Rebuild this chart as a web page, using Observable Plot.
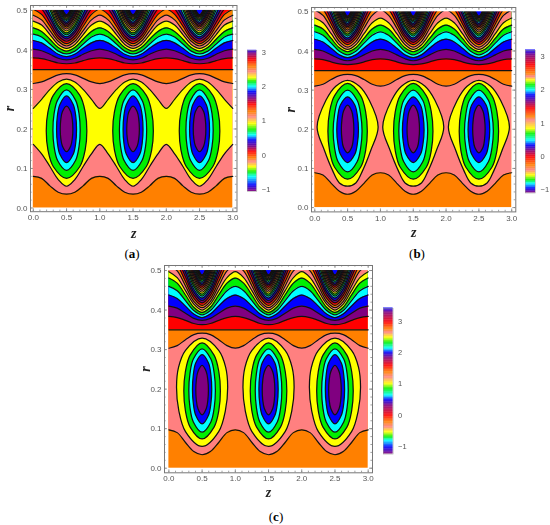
<!DOCTYPE html>
<html>
<head>
<meta charset="utf-8">
<script src="https://cdn.jsdelivr.net/npm/d3@7"></script>
<script src="https://cdn.jsdelivr.net/npm/@observablehq/plot@0.6"></script>
<style>
html,body{margin:0;padding:0;background:#fff;overflow:hidden}
#page{position:relative;width:550px;height:525px;background:#fff}
#page svg{position:absolute;overflow:visible;filter:blur(0.55px)}
.cap{position:absolute;font:13px "Liberation Serif",serif;color:#000;transform:translate(-50%,-50%)}
.cap b{font-weight:bold}
</style>
</head>
<body>
<div id="page"></div>
<script>
const zHalf = [0, 0.125, 0.25, 0.375, 0.5];
const zTicks = [0, 0.5, 1, 1.5, 2, 2.5, 3];
const rTicks = [0, 0.1, 0.2, 0.3, 0.4, 0.5];
const orange = "#ff8000", salmon = "#ff8080", yellow = "#ffff00", green = "#00f000",
      cyan = "#00ffff", blue = "#0000ff", purple = "#800080", red = "#ff0000";
const cycle = [red, purple, blue, cyan, green, yellow, salmon, orange];

// contour lines (r at zHalf columns) for the lower part of each panel
const aBottom = [.080,.075,.056,.040,.035];
const aYellowLow = [.161,.137,.105,.072,.055];
const aYellowUp = [.252,.275,.300,.319,.326];
const aTop = [.315,.319,.328,.337,.340];
const bBottom = [.089,.083,.062,.042,.034];
const bTop = [.310,.315,.327,.337,.340];
const cBottom = [.097,.090,.065,.042,.034];
const cTop = [.3035,.310,.325,.338,.3415];
const flat = [.35,.35,.35,.35,.35];

// upper contour stack
const aUpper = [
[.380,.378,.373,.367,.365],[.402,.398,.389,.379,.375],[.424,.418,.404,.389,.383],[.440,.433,.415,.397,.390],
[.456,.447,.427,.406,.397],[.473,.463,.439,.414,.404],[.488,.476,.449,.422,.410],[.503,.490,.460,.429,.416],
[.518,.504,.470,.436,.422],[.533,.517,.481,.444,.428],[.548,.531,.491,.450,.433],[.563,.544,.501,.457,.438],
[.578,.558,.511,.463,.443],[.593,.571,.521,.470,.448],[.608,.585,.531,.476,.453],[.623,.598,.541,.483,.458],
[.638,.612,.550,.488,.462],[.653,.625,.560,.494,.466],[.668,.638,.569,.500,.470],[.683,.652,.579,.505,.474],
[.698,.665,.588,.510,.477],[.713,.678,.597,.515,.480],[.728,.691,.606,.520,.483],[.743,.704,.614,.524,.485],
[.758,.717,.623,.528,.487],[.773,.730,.631,.532,.489]];
const bUpper = [
[.380,.378,.372,.367,.365],[.404,.400,.390,.380,.375],[.430,.423,.407,.390,.383],[.449,.440,.420,.399,.390],
[.466,.456,.432,.408,.398],[.484,.472,.444,.416,.404],[.505,.491,.458,.424,.410],[.522,.506,.469,.432,.416],
[.538,.521,.480,.439,.422],[.555,.536,.492,.447,.428],[.571,.550,.502,.454,.433],[.588,.566,.513,.461,.438],
[.604,.580,.524,.467,.443],[.621,.595,.535,.474,.448],[.637,.609,.545,.481,.453],[.654,.625,.556,.487,.458],
[.670,.639,.566,.493,.462],[.687,.654,.577,.499,.466],[.703,.668,.587,.505,.470],[.720,.683,.597,.511,.474],
[.736,.697,.607,.516,.477],[.753,.712,.617,.521,.480],[.769,.726,.626,.526,.483],[.786,.741,.636,.530,.485],
[.802,.755,.645,.534,.487],[.819,.769,.654,.539,.489]];
const cUpper = [
[.384,.381,.374,.366,.363],[.410,.405,.392,.379,.374],[.438,.429,.410,.390,.381],[.460,.449,.424,.399,.388],
[.481,.468,.438,.407,.394],[.497,.482,.449,.415,.400],[.515,.499,.461,.422,.406],[.532,.514,.472,.430,.412],
[.549,.529,.484,.438,.418],[.566,.545,.495,.445,.424],[.583,.560,.507,.453,.430],[.600,.575,.518,.460,.435],
[.617,.590,.529,.467,.440],[.634,.606,.540,.473,.445],[.651,.621,.551,.480,.450],[.668,.636,.562,.487,.455],
[.685,.651,.573,.494,.460],[.702,.666,.583,.500,.464],[.719,.681,.594,.506,.468],[.736,.696,.604,.512,.472],
[.753,.711,.615,.518,.476],[.770,.726,.625,.523,.479],[.787,.741,.635,.528,.482],[.804,.756,.645,.533,.485],
[.821,.771,.654,.537,.487],[.838,.785,.664,.541,.489]];

// closed rings around each cell: half widths and r along the right side
const aRings = [
 {fill:green, dz:[0,.20,.28,.305,.28,.20,0], r:[.3147,.285,.243,.195,.147,.105,.075]},
 {fill:cyan, dz:[0,.135,.188,.205,.188,.135,0], r:[.2987,.273,.238,.197,.156,.120,.095]},
 {fill:blue, dz:[0,.10,.138,.15,.138,.10,0], r:[.2835,.262,.233,.199,.165,.136,.1147]},
 {fill:purple, dz:[0,.063,.087,.095,.087,.063,0], r:[.258,.2435,.223,.2,.177,.157,.1426]}];
const bRings = [
 {fill:yellow, dz:[0,.18,.33,.465,.355,.23,.125,0], r:[.325,.310,.274,.206,.147,.095,.063,.0545]},
 {fill:green, dz:[0,.198,.275,.30,.275,.198,0], r:[.317,.286,.244,.195,.146,.103,.0724]},
 {fill:cyan, dz:[0,.145,.20,.22,.20,.145,0], r:[.30,.274,.237,.1955,.154,.117,.091]},
 {fill:blue, dz:[0,.11,.15,.165,.15,.11,0], r:[.283,.262,.233,.199,.165,.136,.115]},
 {fill:purple, dz:[0,.063,.087,.095,.087,.063,0], r:[.2615,.246,.224,.2,.176,.154,.14]}];
const cRings = [
 {fill:yellow, dz:[0,.25,.355,.385,.35,.25,0], r:[.329,.298,.255,.205,.145,.0925,.055]},
 {fill:green, dz:[0,.18,.252,.275,.252,.18,0], r:[.317,.286,.244,.195,.146,.104,.074]},
 {fill:cyan, dz:[0,.132,.183,.20,.183,.132,0], r:[.302,.276,.239,.1965,.154,.117,.091]},
 {fill:blue, dz:[0,.096,.133,.145,.133,.096,0], r:[.2875,.266,.235,.2,.165,.134,.112]},
 {fill:purple, dz:[0,.063,.087,.095,.087,.063,0], r:[.26,.244,.2225,.1975,.1725,.151,.135]}];

// colour-bar stops
const aBarV = [-1.05,-.88,-.64,-.5,-.35,-.2,-.1,.09,.23,.43,.57,.72,.91,1.1,1.25,1.47,1.64,1.83,1.98,2.13,2.24,2.42,2.56,2.76,2.95,3.05];
const bBarV = [-1.1,-.98,-.83,-.73,-.58,-.43,-.28,-.03,.17,.32,.47,.67,.82,1.08,1.18,1.43,1.63,1.83,1.98,2.13,2.28,2.38,2.48,2.73,3.03,3.19];
const cBarV = [-1.24,-1.03,-.82,-.71,-.55,-.39,-.23,-.02,.30,.48,.62,.83,.99,1.2,1.36,1.57,1.83,1.99,2.12,2.31,2.47,2.63,2.74,2.95,3.27,3.41];
const barColors = [purple,blue,cyan,green,yellow,salmon,orange,red,purple,blue,cyan,green,yellow,salmon,orange,red,purple,blue,cyan,green,yellow,salmon,orange,red,purple,blue];
const barTicks = [-1,0,1,2,3];

const page = document.getElementById("page");
const gray = "#777";
const font = "'Liberation Sans',sans-serif";

function tile(col){
  const out = [];
  for (let p=0;p<3;p++){
    zHalf.forEach((z,i)=>{ if(!(p>0&&i===0)) out.push({z:p+z,r:col[i]}); });
    for(let i=3;i>=0;i--) out.push({z:p+1-zHalf[i],r:col[i]});
  }
  return out;
}
function ringPts(ring){
  const out=[];
  [0.5,1.5,2.5].forEach(c=>{
    ring.dz.forEach((d,i)=>out.push({c,z:c+d,r:ring.r[i]}));
    for(let i=ring.dz.length-2;i>0;i--) out.push({c,z:c-ring.dz[i],r:ring.r[i]});
  });
  return out;
}

function panel(o){
  const {frame,xDom,yDom,under,upper,rings,rLabelDx,zLabelDy} = o;
  const left=frame[0]-4, top=frame[2]-4;
  const W=frame[1]-frame[0], H=frame[3]-frame[2];
  const marks=[];
  const curve="catmull-rom";
  marks.push(Plot.rect([0],{x1:0,x2:3,y1:0,y2:.6,fill:orange,clip:true}));
  const lines=[];
  under.forEach(([col,fill])=>{
    const pts=tile(col);
    marks.push(Plot.areaY(pts,{x:"z",y1:"r",y2:()=>.6,fill,curve,clip:true}));
    lines.push(pts);
  });
  const flatPts=tile(flat);
  marks.push(Plot.areaY(flatPts,{x:"z",y1:"r",y2:()=>.6,fill:red,curve,clip:true}));
  lines.push(flatPts);
  upper.forEach((col,i)=>{
    const pts=tile(col);
    marks.push(Plot.areaY(pts,{x:"z",y1:"r",y2:()=>.8,fill:cycle[(i+1)%8],curve,clip:true}));
    lines.push(pts);
  });
  lines.forEach(pts=>marks.push(Plot.line(pts,{x:"z",y:"r",stroke:"#111",strokeWidth:1.2,curve,clip:true})));
  rings.forEach(ring=>{
    marks.push(Plot.line(ringPts(ring),{x:"z",y:"r",z:"c",fill:ring.fill,stroke:"#111",strokeWidth:1.25,curve:"catmull-rom-closed",clip:true}));
  });
  marks.push(Plot.rect([0],{x1:-1,x2:4,y1:.5,y2:1,fill:"white",clip:true}));
  // inner tick marks on all four sides
  const zMinor=d3.range(0,3.01,.1), rMinor=d3.range(0,.501,.02);
  const lz=(xDom[1]-xDom[0])/W, lr=(yDom[1]-yDom[0])/H;
  const tick=(vals,len)=>[
    Plot.ruleX(vals[0],{x:d=>d,y1:yDom[0],y2:yDom[0]+len*lr,stroke:gray,strokeWidth:.7}),
    Plot.ruleX(vals[0],{x:d=>d,y1:yDom[1],y2:yDom[1]-len*lr,stroke:gray,strokeWidth:.7}),
    Plot.ruleY(vals[1],{y:d=>d,x1:xDom[0],x2:xDom[0]+len*lz,stroke:gray,strokeWidth:.7}),
    Plot.ruleY(vals[1],{y:d=>d,x1:xDom[1],x2:xDom[1]-len*lz,stroke:gray,strokeWidth:.7})];
  marks.push(...tick([zMinor,rMinor],1.6),...tick([zTicks,rTicks],3));
  marks.push(Plot.frame({stroke:gray,strokeWidth:1}));
  marks.push(Plot.axisX({ticks:zTicks,tickSize:0,tickPadding:3,tickFormat:d3.format(".1f"),label:null,fontSize:8,fill:"#555",fontFamily:font}));
  marks.push(Plot.axisY({ticks:rTicks,tickSize:0,tickPadding:3,tickFormat:d3.format(".1f"),label:null,fontSize:8,fill:"#555",fontFamily:font}));
  marks.push(Plot.text(["z"],{frameAnchor:"bottom",lineAnchor:"middle",dy:zLabelDy,fontSize:14,fontStyle:"italic",fontWeight:"bold",fontFamily:"'Liberation Serif',serif",fill:"#222"}));
  marks.push(Plot.text(["r"],{frameAnchor:"left",textAnchor:"middle",dx:rLabelDx,rotate:-90,fontSize:14,fontStyle:"italic",fontWeight:"bold",fontFamily:"'Liberation Serif',serif",fill:"#222"}));
  const svg=Plot.plot({
    width:W+8,height:H+32,marginLeft:4,marginRight:4,marginTop:4,marginBottom:28,
    x:{domain:xDom,label:null},y:{domain:yDom,label:null},
    style:{background:"transparent",overflow:"visible"},
    marks
  });
  svg.style.left=left+"px"; svg.style.top=top+"px";
  page.appendChild(svg);
}

function bar(o){
  const {box,dom,stops}=o; // box: x0,x1,y0,y1
  const colorOf=d3.scaleLinear().domain(stops).range(barColors);
  const step=.02;
  const vals=d3.range(dom[0],dom[1],step);
  const svg=Plot.plot({
    width:box[1]-box[0]+22,height:box[3]-box[2],marginLeft:0,marginRight:22,marginTop:0,marginBottom:0,
    x:{domain:[0,1],axis:null},y:{domain:dom,label:null},
    style:{background:"transparent",overflow:"visible"},
    marks:[
      Plot.rect(vals,{x1:0,x2:1,y1:d=>d,y2:d=>d+step*1.3,fill:d=>colorOf(d)}),
      Plot.frame({stroke:"#999",strokeWidth:.5}),
      Plot.axisY({anchor:"right",ticks:barTicks,tickSize:3,tickPadding:2,tickFormat:d=>d<0?"\u2212"+(-d):d,label:null,fontSize:7.5,fill:"#555",stroke:null,fontFamily:font})
    ]
  });
  svg.style.left=box[0]+"px"; svg.style.top=box[2]+"px";
  page.appendChild(svg);
}

panel({frame:[29.5,236,4.5,210.7],xDom:[-.042,3.063],yDom:[-.0094,.5125],
  under:[[aBottom,salmon],[aYellowLow,yellow],[aYellowUp,salmon],[aTop,orange]],
  upper:aUpper,rings:aRings,rLabelDx:-21,zLabelDy:22});
panel({frame:[310.7,515,7.3,211.7],xDom:[-.050,3.062],yDom:[-.011,.511],
  under:[[bBottom,salmon],[bTop,orange]],
  upper:bUpper,rings:bRings,rLabelDx:-21,zLabelDy:21});
panel({frame:[164.3,372.3,265,472.3],xDom:[-.066,3.065],yDom:[-.0116,.5127],
  under:[[cBottom,salmon],[cTop,orange]],
  upper:cUpper,rings:cRings,rLabelDx:-19,zLabelDy:20});

bar({box:[246.7,256,50,191],dom:[-1.05,3.05],stops:aBarV});
bar({box:[525,535,50,192.5],dom:[-1.1,3.19],stops:bBarV});
bar({box:[382.7,392.3,307.7,453.3],dom:[-1.24,3.41],stops:cBarV});

[["a",132,254],["b",417,254],["c",276,517]].forEach(([t,x,y])=>{
  const d=document.createElement("div");
  d.className="cap";d.style.left=x+"px";d.style.top=y+"px";
  d.innerHTML="(<b>"+t+"</b>)";
  page.appendChild(d);
});
</script>
</body>
</html>
